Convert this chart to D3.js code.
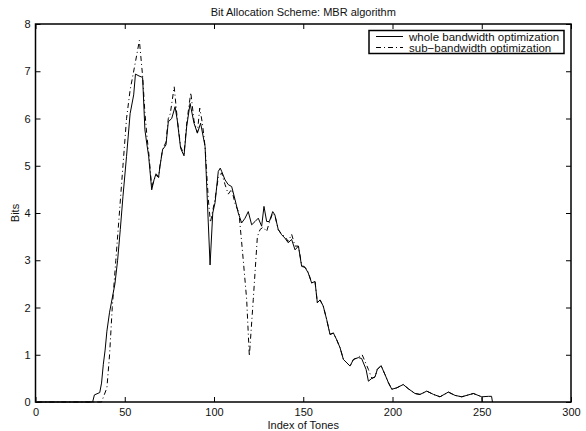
<!DOCTYPE html>
<html>
<head>
<meta charset="utf-8">
<script src="https://cdn.jsdelivr.net/npm/d3@7"></script>
<style>
body { margin: 0; background: #fff; }
text { font-family: "Liberation Sans", Arial, Helvetica, sans-serif; fill: #111; }
</style>
</head>
<body>
<div id="chart"></div>
<script>
// tick values
var xTicks = [0, 50, 100, 150, 200, 250, 300];
var yTicks = [0, 1, 2, 3, 4, 5, 6, 7, 8];

// whole bandwidth optimization: [tone index, bits]
var wholePts = [
    [1,0],[32,0],[33,0.15],[36,0.2],[37,0.4],[38,0.8],[39,1.1],[40,1.5],[41.5,1.9],[43,2.2],
    [44.5,2.5],[46,3.0],[47.5,3.65],[49,4.35],[51,5.2],[53,6.1],[55,6.5],[56,6.94],[58,6.9],[60,6.87],
    [61.3,5.76],[62.3,5.48],[63.4,5.2],[65.1,4.49],[66.4,4.7],[67.5,4.83],[69,4.77],[69.7,4.98],
    [71.2,5.34],[73.1,5.44],[74.4,5.93],[76.3,6.0],[78.2,6.25],[79.4,5.97],[81.3,5.37],[83.2,5.21],
    [84.7,5.83],[86.6,6.32],[88.8,5.9],[90.7,5.69],[92.5,5.9],[95,5.41],[96.8,3.79],[97.8,2.9],
    [99.3,4.0],[100.6,4.22],[102.4,4.88],[103.5,4.95],[104.3,4.88],[106.2,4.7],[108,4.6],
    [109.9,4.56],[111.8,4.28],[113.6,4.0],[115.5,3.79],[117.4,3.89],[119.2,4.03],[121.1,3.75],
    [123,3.82],[124.8,3.89],[126.7,3.72],[128,4.14],[129.5,3.82],[131,3.82],[132.9,4.03],
    [134.1,3.96],[136,3.65],[137.9,3.54],[139.7,3.47],[141.6,3.37],[143.5,3.44],[145.4,3.22],
    [147.3,3.3],[149.1,2.87],[151,2.85],[152.8,2.73],[154.7,2.52],[156.6,2.55],[157.9,2.1],
    [159.4,2.16],[161.2,2.03],[163.1,1.75],[165,1.43],[166.9,1.46],[168.7,1.32],[170.6,1.15],
    [172.5,0.9],[174.4,0.83],[176.2,0.76],[178.1,0.9],[180.9,0.94],[182.7,0.92],[185.2,0.69],
    [186.5,0.44],[188.4,0.5],[190.2,0.53],[191.5,0.69],[193.6,0.77],[195.8,0.58],[197.7,0.41],
    [199.6,0.27],[202.4,0.3],[206,0.37],[208.9,0.28],[212.6,0.18],[215.4,0.16],[219.2,0.23],
    [223,0.16],[226.6,0.11],[231.3,0.21],[235,0.14],[238.8,0.11],[245.3,0.18],[250,0.11],
    [253.7,0.12],[255.5,0.12],[256,0]
];

// sub-bandwidth optimization: [tone index, bits]
var subPts = [
    [1,0],[37,0],[38,0.1],[40,0.3],[41.5,1.0],[43,2.0],[45,3.0],[47,4.0],[49,5.0],[51,6.0],
    [53,6.6],[54.5,6.9],[56,7.2],[58.2,7.65],[60,6.9],[61.3,6.12],[62.5,5.6],[63.5,5.25],
    [65.1,4.55],[66.4,4.7],[67.5,4.8],[69,4.75],[69.7,5.0],[71.2,5.35],[73.1,5.5],[74.4,6.0],
    [75.5,6.1],[77.7,6.67],[79.4,6.0],[81.3,5.4],[83.2,5.25],[84.7,5.9],[87,6.55],[88.8,5.95],
    [90.7,5.7],[92,6.22],[93.5,5.9],[95,5.4],[96.8,4.3],[98,3.8],[99.3,4.05],[100.6,4.3],
    [102.4,4.75],[104.3,4.85],[106.2,4.6],[108,4.4],[109.9,4.5],[111.8,4.2],[114,4.0],
    [116.4,3.0],[118.3,2.17],[119.8,0.97],[122,2.17],[124.3,3.5],[125.8,3.65],[127.5,3.7],
    [129.5,3.61],[131,3.8],[132.9,4.0],[134.1,3.95],[136,3.65],[137.9,3.55],[139.7,3.5],
    [141.6,3.4],[143.5,3.55],[145.4,3.3],[147.3,3.3],[149.1,2.9],[151,2.85],[152.8,2.75],
    [154.7,2.52],[156.6,2.55],[157.9,2.1],[159.4,2.16],[161.2,2.03],[163.1,1.75],[165,1.43],
    [166.9,1.46],[168.7,1.32],[170.6,1.15],[172.5,0.9],[174.4,0.83],[176.2,0.76],[178.1,0.9],
    [180.9,0.95],[183,1.0],[186.5,0.69],[188.4,0.5],[190.2,0.53],[191.5,0.69],[193.6,0.77],
    [195.8,0.58],[197.7,0.41],[199.6,0.27],[202.4,0.3],[206,0.37],[208.9,0.28],[212.6,0.18],
    [215.4,0.16],[219.2,0.23],[223,0.16],[226.6,0.11],[231.3,0.21],[235,0.14],[238.8,0.11],
    [245.3,0.18],[250,0.11],[250.2,0]
];

var seriesNames = ["whole bandwidth optimization", "sub\u2212bandwidth optimization"];
var seriesDash = [null, "5,3,1,3"];

var W = 586, H = 431;
var plotL = 35.5, plotR = 571, plotT = 24, plotB = 402;

var svg = d3.select("#chart").append("svg")
    .attr("width", W)
    .attr("height", H);

var x = d3.scaleLinear().domain([0, 300]).range([plotL, plotR]);
var y = d3.scaleLinear().domain([0, 8]).range([plotB, plotT]);

// axes with inward ticks on all four sides
var tickLen = 5;
function styleAxis(g) {
    g.select(".domain").remove();
    g.selectAll(".tick line").attr("stroke", "#000").attr("stroke-width", 1);
    g.selectAll(".tick text").style("font-size", "11px").attr("fill", "#111");
}
svg.append("g")
    .attr("transform", "translate(0," + plotB + ")")
    .call(d3.axisBottom(x).tickValues(xTicks).tickSizeInner(-tickLen).tickSizeOuter(0).tickPadding(6))
    .call(styleAxis);
svg.append("g")
    .attr("transform", "translate(0," + plotT + ")")
    .call(d3.axisTop(x).tickValues(xTicks).tickSizeInner(-tickLen).tickSizeOuter(0).tickFormat(""))
    .call(styleAxis);
svg.append("g")
    .attr("transform", "translate(" + plotL + ",0)")
    .call(d3.axisLeft(y).tickValues(yTicks).tickSizeInner(-tickLen).tickSizeOuter(0).tickPadding(5))
    .call(styleAxis);
svg.append("g")
    .attr("transform", "translate(" + plotR + ",0)")
    .call(d3.axisRight(y).tickValues(yTicks).tickSizeInner(-tickLen).tickSizeOuter(0).tickFormat(""))
    .call(styleAxis);

// the curves
var line = d3.line()
    .x(function (d) { return x(d[0]); })
    .y(function (d) { return y(d[1]); });

svg.append("path")
    .datum(wholePts)
    .attr("fill", "none")
    .attr("stroke", "#000")
    .attr("stroke-width", 1)
    .attr("d", line);

svg.append("path")
    .datum(subPts)
    .attr("fill", "none")
    .attr("stroke", "#000")
    .attr("stroke-width", 1)
    .attr("stroke-dasharray", seriesDash[1])
    .attr("d", line);

// box
svg.append("rect")
    .attr("x", plotL)
    .attr("y", plotT)
    .attr("width", plotR - plotL)
    .attr("height", plotB - plotT)
    .attr("fill", "none")
    .attr("stroke", "#000")
    .attr("stroke-width", 1.5);

// title and labels
svg.append("text")
    .attr("x", (plotL + plotR) / 2)
    .attr("y", 16)
    .attr("text-anchor", "middle")
    .style("font-size", "11px")
    .text("Bit Allocation Scheme: MBR algorithm");

svg.append("text")
    .attr("x", (plotL + plotR) / 2)
    .attr("y", 429)
    .attr("text-anchor", "middle")
    .style("font-size", "11px")
    .text("Index of Tones");

svg.append("text")
    .attr("transform", "translate(19," + ((plotT + plotB) / 2) + ") rotate(-90)")
    .attr("text-anchor", "middle")
    .style("font-size", "11px")
    .text("Bits");

// legend
var legX = 369, legY = 30.5, legW = 195, legH = 23;
svg.append("rect")
    .attr("x", legX)
    .attr("y", legY)
    .attr("width", legW)
    .attr("height", legH)
    .attr("fill", "#fff")
    .attr("stroke", "#000")
    .attr("stroke-width", 1.5);

var legend = svg.selectAll(".legend")
    .data(seriesNames)
    .enter()
    .append("g")
    .attr("transform", function (d, i) { return "translate(" + legX + "," + (legY + 6 + i * 11) + ")"; });

legend.append("line")
    .attr("x1", 7)
    .attr("x2", 34)
    .attr("y1", 0)
    .attr("y2", 0)
    .attr("stroke", "#000")
    .attr("stroke-width", 1)
    .attr("stroke-dasharray", function (d, i) { return seriesDash[i]; });

legend.append("text")
    .attr("x", 40)
    .attr("y", 4)
    .style("font-size", "11.5px")
    .text(function (d) { return d; });
</script>
</body>
</html>
